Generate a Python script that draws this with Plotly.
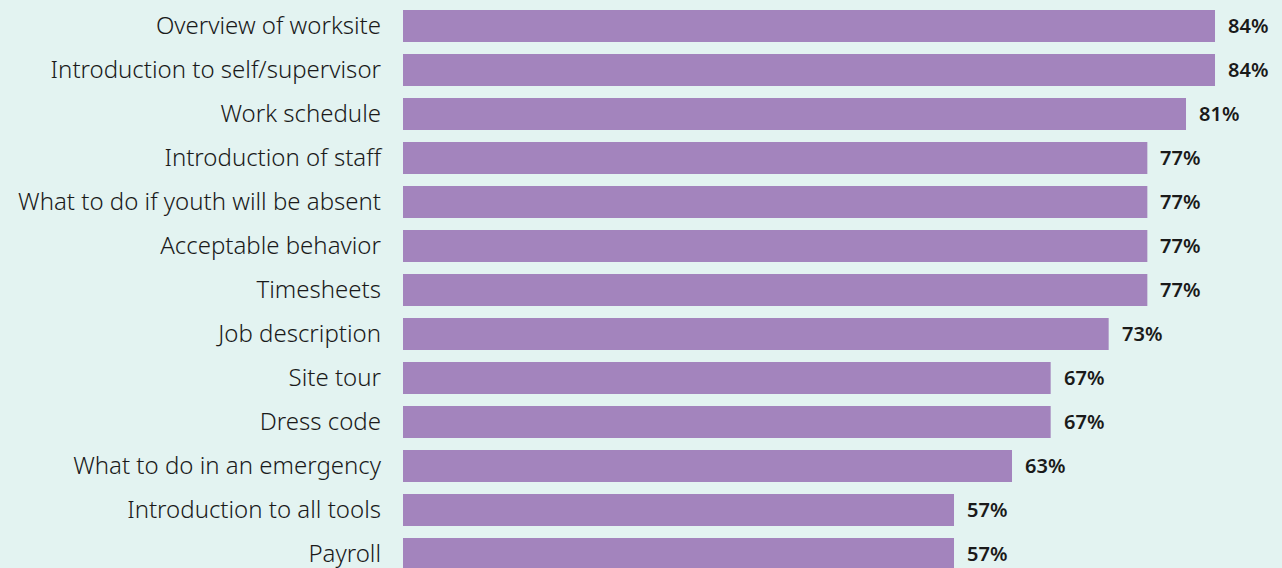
import plotly.graph_objects as go

# Onboarding topics covered, share of respondents (%)
topics = [
    "Overview of worksite",
    "Introduction to self/supervisor",
    "Work schedule",
    "Introduction of staff",
    "What to do if youth will be absent",
    "Acceptable behavior",
    "Timesheets",
    "Job description",
    "Site tour",
    "Dress code",
    "What to do in an emergency",
    "Introduction to all tools",
    "Payroll",
]
shares = [84, 84, 81, 77, 77, 77, 77, 73, 67, 67, 63, 57, 57]

bg = "#e3f3f1"
bar_color = "#a384bd"
font_family = "Noto Sans, Open Sans, sans-serif"

fig = go.Figure(go.Bar(
    x=shares,
    y=topics,
    orientation="h",
    marker=dict(color=bar_color, line=dict(width=0)),
    hoverinfo="skip",
))

# value labels just right of each bar
for topic, v in zip(topics, shares):
    fig.add_annotation(
        x=v, y=topic, text=f"{v}%",
        xanchor="left", yanchor="middle", xshift=11, yshift=1,
        showarrow=False,
        font=dict(family=font_family, size=20, weight=600, color="#1a1a1a"),
    )

fig.update_layout(
    width=1282,
    height=568,
    margin=dict(l=403, r=0, t=4, b=0),
    paper_bgcolor=bg,
    plot_bgcolor=bg,
    bargap=0.27,
    showlegend=False,
    font=dict(family=font_family, color="#1a1a1a"),
    xaxis=dict(range=[0, 90.93], visible=False, showgrid=False, zeroline=False),
    yaxis=dict(
        type="category",
        categoryorder="array",
        categoryarray=topics,
        range=[12.318, -0.5],
        showgrid=False,
        zeroline=False,
        ticks="",
        ticklabelstandoff=21,
        tickfont=dict(family=font_family, size=24, weight=300, color="#1a1a1a"),
    ),
)

fig.write_html(
    "out.html",
    config={"displayModeBar": False},
    post_script="document.body.style.margin='0';",
)
